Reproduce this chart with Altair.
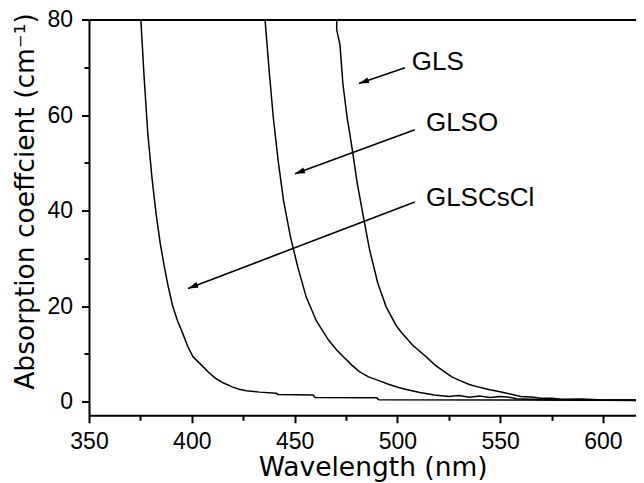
import math
import altair as alt
import pandas as pd

# ---------------- data ----------------
wl_cscl = [375.2, 376.8, 378.6, 380.6, 382.6, 384.6, 386.6, 388.6, 390.6, 393.0,
           395.6, 398.0, 400.6, 404.6, 408.0, 411.6, 415.5, 419.6, 423.0, 426.6,
           433.0, 441.0, 442.0, 459.0, 460.0, 490.0, 491.0, 560.0, 590.0, 620.0]
ab_cscl = [80.2, 68.0, 56.2, 47.0, 39.4, 33.3, 28.3, 24.0, 20.2, 17.0,
           14.3, 11.6, 9.4, 7.7, 6.2, 4.9, 3.9, 3.1, 2.6, 2.3,
           2.0, 1.75, 1.5, 1.4, 0.9, 0.8, 0.4, 0.35, 0.3, 0.3]

wl_glso = [435.6, 437.5, 439.6, 442.0, 444.6, 448.0, 451.5, 455.6, 460.5, 466.5,
           470.5, 474.5, 478.0, 481.5, 486.0, 491.0, 496.0, 501.0, 506.0, 511.0,
           518.0, 525.0, 530.0, 535.0, 540.0, 545.0, 550.0, 555.0, 558.0, 565.0,
           580.0, 600.0, 620.0]
ab_glso = [80.2, 70.0, 59.7, 50.5, 42.2, 34.5, 28.3, 22.0, 17.0, 12.9,
           10.8, 9.1, 7.6, 6.3, 5.2, 4.4, 3.6, 2.9, 2.4, 1.9,
           1.4, 1.1, 1.3, 0.95, 1.2, 0.9, 1.1, 0.9, 0.6, 0.5,
           0.35, 0.3, 0.25]

wl_gls = [470.5, 470.5, 472.1, 473.5, 475.5, 478.1, 480.5, 483.5, 486.5, 490.5,
          494.5, 499.5, 502.0, 507.5, 514.0, 518.5, 522.5, 526.5, 530.5, 535.0,
          540.0, 545.0, 550.0, 555.0, 560.0, 565.0, 570.0, 575.0, 580.0, 590.0,
          600.0, 610.0, 620.0]
ab_gls = [80.2, 77.8, 74.7, 66.6, 59.7, 52.7, 45.7, 38.7, 31.8, 24.8,
          19.9, 15.9, 14.5, 11.8, 9.4, 7.6, 6.4, 5.2, 4.4, 3.6,
          3.0, 2.5, 2.1, 1.6, 1.1, 1.0, 0.7, 0.7, 0.5, 0.55,
          0.35, 0.4, 0.3]

label_names = ["GLS", "GLSO", "GLSCsCl"]
label_x = [507.0, 513.9, 513.9]
label_y = [71.2, 58.4, 42.7]
arrow_x0 = [503.7, 508.5, 508.5]
arrow_y0 = [69.9, 56.9, 41.8]
arrow_x1 = [481.3, 450.2, 398.2]
arrow_y1 = [66.6, 47.7, 23.7]

x_major_ticks = [350, 400, 450, 500, 550, 600]
x_minor_ticks = [375, 425, 475, 525, 575]
y_major_ticks = [0, 20, 40, 60, 80]
y_minor_ticks = [10, 30, 50, 70]

# ---------------- layout ----------------
W, H = 547, 395.8
XMIN, XMAX = 350, 616.1
YMIN, YMAX = -2.85, 80
FONT = "Liberation Sans"
TFONT = "DejaVu Sans"

rows = []
for name, xs_, ys_ in [("GLSCsCl", wl_cscl, ab_cscl), ("GLSO", wl_glso, ab_glso), ("GLS", wl_gls, ab_gls)]:
    for i, (a, b) in enumerate(zip(xs_, ys_)):
        rows.append({"series": name, "wl": a, "ab": b, "order": i})
curves = pd.DataFrame(rows)

px_x = W / (XMAX - XMIN)
px_y = H / (YMAX - YMIN)
angles = []
for x0, y0, x1, y1 in zip(arrow_x0, arrow_y0, arrow_x1, arrow_y1):
    dx = (x1 - x0) * px_x
    dy = -(y1 - y0) * px_y
    angles.append(math.degrees(math.atan2(dx, -dy)) % 360)

ann = pd.DataFrame({"name": label_names, "lx": label_x, "ly": label_y,
                    "x0": arrow_x0, "y0": arrow_y0, "x1": arrow_x1, "y1": arrow_y1,
                    "ang": angles})

xs = alt.Scale(domain=[XMIN, XMAX], nice=False, zero=False)
ys = alt.Scale(domain=[YMIN, YMAX], nice=False, zero=False)

common = dict(grid=False, domainColor="black", tickColor="black", labelColor="black",
              titleColor="black", labelFont=FONT, titleFont=TFONT)

x_major = alt.Axis(values=x_major_ticks, title="Wavelength (nm)", orient="bottom",
                   tickSize=7.5, tickWidth=2, domainWidth=2,
                   labelFontSize=23, labelBaseline="alphabetic", labelPadding=26,
                   labelFlush=False, labelOverlap=False,
                   titleFontSize=26.5, titleFontWeight="normal", titleX=283.7, titleY=60,
                   titleBaseline="alphabetic", titleAlign="center", **common)
y_major = alt.Axis(values=y_major_ticks, title="Absorption coeffcient (cm⁻¹)", orient="left",
                   tickSize=7.5, tickWidth=2, domainWidth=2,
                   labelFontSize=23, labelPadding=9, labelFlush=False, labelOverlap=False,
                   titleFontSize=26.5, titleFontWeight="normal", titleX=-55.7, titleY=181.5,
                   titleAngle=270, titleBaseline="alphabetic", titleAlign="center", **common)
x_minor = alt.Axis(values=x_minor_ticks, orient="bottom", labels=False, domain=False,
                   tickSize=5, tickWidth=2, title=None, **common)
y_minor = alt.Axis(values=y_minor_ticks, orient="left", labels=False, domain=False,
                   tickSize=5, tickWidth=2, title=None, **common)
x_top = alt.Axis(orient="top", labels=False, ticks=False, domain=True, domainWidth=2,
                 title=None, values=[], **common)

lines = alt.Chart(curves).mark_line(color="black", strokeWidth=1.5, clip=True).encode(
    x=alt.X("wl:Q", scale=xs, axis=x_major),
    y=alt.Y("ab:Q", scale=ys, axis=y_major),
    detail="series:N",
    order="order:Q",
)

arrows = alt.Chart(ann).mark_rule(color="black", strokeWidth=1.6).encode(
    x=alt.X("x0:Q", scale=xs, axis=x_minor),
    y=alt.Y("y0:Q", scale=ys, axis=y_minor),
    x2="x1:Q",
    y2="y1:Q",
)

heads = alt.Chart(ann).mark_point(filled=True, color="black", opacity=1,
                                  shape="M0,0L0.3,1L-0.3,1Z", size=400).encode(
    x=alt.X("x1:Q", scale=xs, axis=x_top),
    y=alt.Y("y1:Q", scale=ys, axis=None),
    angle=alt.Angle("ang:Q", scale=None),
)

texts = alt.Chart(ann).mark_text(align="left", baseline="middle", font=FONT,
                                 fontSize=26, color="black").encode(
    x=alt.X("lx:Q", scale=xs, axis=None),
    y=alt.Y("ly:Q", scale=ys, axis=None),
    text="name:N",
)

chart = alt.layer(lines, arrows, heads, texts).resolve_axis(
    x="independent", y="independent"
).properties(
    width=W, height=H,
    autosize=alt.AutoSizeParams(type="none"),
    padding={"left": 81, "top": 11.5, "right": 0, "bottom": 67},
    background="white",
).configure_view(stroke=None)

chart.save("out.html", embed_options={"renderer": "svg", "actions": False})
